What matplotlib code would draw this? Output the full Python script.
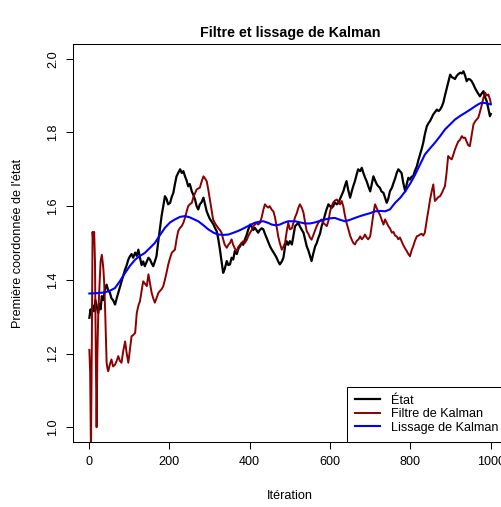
import numpy as np
import matplotlib
matplotlib.use('Agg')
import matplotlib.pyplot as plt

plt.rcParams['font.family'] = ['Liberation Sans', 'DejaVu Sans']

# Etat (premiere coordonnee)
it_etat = [1, 4, 7, 10, 13, 16, 19, 23, 26, 29,
           32, 36, 40, 44, 48, 52, 56, 60, 65, 69,
           73, 77, 81, 85, 89, 94, 98, 102, 106, 110,
           115, 119, 123, 127, 131, 135, 139, 144, 148, 152,
           156, 160, 164, 168, 172, 177, 181, 185, 189, 193,
           197, 202, 206, 210, 214, 218, 222, 227, 231, 235,
           239, 243, 247, 251, 256, 260, 264, 268, 272, 276,
           280, 285, 289, 293, 297, 301, 305, 310, 314, 318,
           322, 326, 330, 334, 338, 343, 347, 351, 355, 359,
           363, 368, 372, 376, 380, 384, 388, 392, 396, 401,
           405, 409, 413, 417, 421, 425, 430, 434, 438, 442,
           447, 451, 455, 459, 463, 467, 471, 475, 480, 484,
           488, 492, 496, 500, 505, 509, 513, 517, 521, 525,
           530, 534, 538, 542, 546, 550, 554, 558, 563, 567,
           571, 575, 579, 583, 587, 591, 596, 600, 604, 608,
           612, 617, 621, 625, 629, 633, 637, 641, 645, 650,
           654, 658, 662, 666, 670, 675, 679, 683, 687, 691,
           695, 700, 704, 708, 712, 716, 720, 724, 728, 733,
           737, 741, 745, 749, 754, 758, 762, 766, 770, 774,
           778, 782, 787, 791, 795, 799, 803, 807, 811, 816,
           820, 824, 828, 832, 836, 841, 845, 849, 853, 857,
           861, 866, 870, 874, 878, 882, 886, 890, 894, 899,
           903, 907, 911, 915, 919, 924, 928, 932, 936, 940,
           944, 948, 952, 957, 961, 965, 969, 973, 977, 982,
           986, 990, 994, 998, 1000]
etat = [1.297, 1.32, 1.305, 1.33, 1.315, 1.345, 1.33, 1.31, 1.335, 1.32,
        1.356, 1.345, 1.375, 1.387, 1.37, 1.366, 1.35, 1.345, 1.333, 1.35,
        1.365, 1.38, 1.395, 1.41, 1.425, 1.44, 1.455, 1.464, 1.47, 1.46,
        1.474, 1.465, 1.482, 1.46, 1.44, 1.45, 1.437, 1.45, 1.46, 1.455,
        1.445, 1.437, 1.45, 1.464, 1.50, 1.541, 1.575, 1.60, 1.627, 1.62,
        1.605, 1.609, 1.625, 1.636, 1.66, 1.681, 1.69, 1.70, 1.69, 1.695,
        1.681, 1.67, 1.654, 1.66, 1.64, 1.63, 1.618, 1.60, 1.591, 1.605,
        1.61, 1.623, 1.605, 1.586, 1.575, 1.565, 1.559, 1.55, 1.54, 1.532,
        1.51, 1.482, 1.45, 1.419, 1.43, 1.451, 1.44, 1.442, 1.46, 1.455,
        1.478, 1.47, 1.485, 1.491, 1.50, 1.495, 1.509, 1.52, 1.535, 1.55,
        1.545, 1.535, 1.541, 1.535, 1.528, 1.535, 1.54, 1.537, 1.525, 1.514,
        1.50, 1.49, 1.482, 1.475, 1.468, 1.46, 1.45, 1.442, 1.45, 1.46,
        1.49, 1.505, 1.495, 1.505, 1.496, 1.52, 1.546, 1.55, 1.555, 1.545,
        1.535, 1.528, 1.51, 1.491, 1.48, 1.465, 1.451, 1.47, 1.491, 1.50,
        1.514, 1.525, 1.545, 1.559, 1.575, 1.59, 1.605, 1.60, 1.595, 1.60,
        1.61, 1.605, 1.609, 1.62, 1.63, 1.64, 1.655, 1.668, 1.645, 1.623,
        1.64, 1.655, 1.668, 1.685, 1.70, 1.695, 1.704, 1.69, 1.678, 1.668,
        1.655, 1.64, 1.66, 1.681, 1.67, 1.66, 1.654, 1.65, 1.64, 1.636,
        1.623, 1.609, 1.62, 1.64, 1.65, 1.663, 1.675, 1.69, 1.70, 1.695,
        1.69, 1.665, 1.64, 1.66, 1.677, 1.672, 1.68, 1.681, 1.695, 1.708,
        1.725, 1.74, 1.755, 1.772, 1.795, 1.817, 1.825, 1.831, 1.84, 1.849,
        1.855, 1.862, 1.858, 1.862, 1.87, 1.881, 1.90, 1.917, 1.935, 1.957,
        1.95, 1.948, 1.945, 1.953, 1.958, 1.962, 1.96, 1.966, 1.955, 1.939,
        1.945, 1.944, 1.94, 1.93, 1.92, 1.912, 1.905, 1.898, 1.905, 1.912,
        1.895, 1.885, 1.865, 1.844, 1.85]

# Filtre de Kalman
it_filtre = [1, 3, 5, 7, 9, 11, 13, 15, 17, 19,
             21, 23, 26, 29, 32, 34, 36, 38, 40, 42,
             44, 46, 48, 52, 56, 60, 65, 69, 73, 77,
             81, 85, 90, 94, 98, 102, 106, 110, 115, 119,
             123, 127, 131, 135, 139, 144, 148, 152, 156, 160,
             164, 168, 173, 177, 181, 185, 189, 193, 197, 202,
             206, 210, 214, 218, 222, 226, 231, 235, 239, 243,
             247, 251, 256, 260, 264, 268, 272, 276, 280, 285,
             289, 293, 297, 301, 305, 309, 313, 318, 322, 326,
             330, 334, 338, 343, 347, 351, 355, 359, 363, 368,
             372, 376, 380, 384, 388, 393, 397, 401, 405, 409,
             413, 417, 421, 426, 430, 434, 438, 442, 446, 450,
             455, 459, 463, 467, 471, 475, 480, 484, 488, 492,
             496, 500, 505, 509, 513, 517, 521, 525, 530, 534,
             538, 542, 546, 550, 554, 558, 563, 567, 571, 575,
             579, 583, 588, 592, 596, 600, 604, 608, 612, 617,
             621, 625, 629, 633, 637, 641, 645, 650, 654, 658,
             662, 666, 671, 675, 679, 683, 687, 691, 695, 700,
             704, 708, 712, 716, 720, 724, 728, 733, 737, 741,
             745, 749, 754, 758, 762, 766, 770, 774, 778, 782,
             787, 791, 795, 799, 803, 807, 811, 816, 820, 824,
             828, 832, 836, 841, 845, 849, 853, 857, 861, 866,
             870, 874, 878, 882, 886, 890, 894, 899, 903, 907,
             911, 915, 919, 924, 928, 932, 936, 940, 944, 948,
             952, 957, 961, 965, 969, 973, 978, 982, 986, 990,
             994, 998, 1000]
filtre = [1.21, 1.15, 0.93, 1.20, 1.53, 1.50, 1.53, 1.45, 1.20, 1.00,
          1.20, 1.30, 1.38, 1.45, 1.468, 1.45, 1.428, 1.39, 1.328, 1.25,
          1.175, 1.16, 1.152, 1.17, 1.184, 1.165, 1.17, 1.18, 1.193, 1.18,
          1.175, 1.205, 1.233, 1.20, 1.175, 1.21, 1.247, 1.25, 1.256, 1.31,
          1.33, 1.342, 1.37, 1.396, 1.39, 1.383, 1.415, 1.39, 1.365, 1.35,
          1.338, 1.35, 1.365, 1.37, 1.375, 1.383, 1.40, 1.419, 1.44, 1.46,
          1.473, 1.478, 1.482, 1.51, 1.532, 1.54, 1.546, 1.555, 1.568, 1.585,
          1.60, 1.605, 1.609, 1.625, 1.635, 1.645, 1.648, 1.65, 1.665, 1.681,
          1.675, 1.668, 1.645, 1.618, 1.59, 1.564, 1.555, 1.546, 1.54, 1.535,
          1.528, 1.51, 1.495, 1.487, 1.495, 1.50, 1.51, 1.495, 1.485, 1.478,
          1.49, 1.495, 1.50, 1.505, 1.50, 1.509, 1.52, 1.528, 1.535, 1.545,
          1.55, 1.555, 1.55, 1.555, 1.57, 1.59, 1.605, 1.60, 1.596, 1.60,
          1.59, 1.586, 1.57, 1.545, 1.518, 1.50, 1.482, 1.49, 1.50, 1.53,
          1.555, 1.537, 1.54, 1.555, 1.57, 1.58, 1.595, 1.605, 1.595, 1.582,
          1.555, 1.532, 1.525, 1.515, 1.509, 1.52, 1.535, 1.546, 1.555, 1.56,
          1.564, 1.555, 1.55, 1.546, 1.56, 1.585, 1.60, 1.61, 1.615, 1.618,
          1.61, 1.605, 1.614, 1.60, 1.575, 1.555, 1.54, 1.52, 1.509, 1.50,
          1.496, 1.505, 1.51, 1.518, 1.51, 1.515, 1.523, 1.515, 1.51, 1.518,
          1.55, 1.58, 1.605, 1.595, 1.585, 1.577, 1.565, 1.55, 1.564, 1.555,
          1.546, 1.54, 1.528, 1.53, 1.52, 1.518, 1.51, 1.515, 1.505, 1.495,
          1.485, 1.478, 1.47, 1.464, 1.48, 1.491, 1.505, 1.518, 1.52, 1.523,
          1.525, 1.52, 1.528, 1.564, 1.59, 1.618, 1.64, 1.659, 1.614, 1.62,
          1.625, 1.627, 1.635, 1.645, 1.654, 1.69, 1.736, 1.73, 1.727, 1.74,
          1.754, 1.765, 1.775, 1.781, 1.79, 1.785, 1.786, 1.775, 1.765, 1.763,
          1.79, 1.822, 1.83, 1.835, 1.84, 1.855, 1.876, 1.895, 1.908, 1.90,
          1.903, 1.89, 1.88]

# Lissage de Kalman
it_lissage = [1, 20, 40, 55, 65, 78, 90, 102, 115, 127,
              139, 152, 164, 177, 189, 202, 214, 227, 239, 250,
              260, 272, 285, 297, 310, 322, 335, 347, 360, 372,
              380, 396, 413, 425, 434, 445, 455, 465, 475, 485,
              496, 513, 525, 538, 550, 563, 575, 588, 600, 612,
              625, 637, 650, 662, 675, 687, 700, 712, 725, 737,
              749, 762, 775, 787, 800, 812, 824, 836, 849, 861,
              874, 886, 899, 911, 924, 936, 949, 961, 970, 978,
              990, 1000]
lissage = [1.363, 1.364, 1.366, 1.372, 1.378, 1.398, 1.419, 1.438, 1.455, 1.465,
           1.473, 1.487, 1.50, 1.522, 1.541, 1.556, 1.564, 1.571, 1.573, 1.57,
           1.565, 1.559, 1.548, 1.537, 1.528, 1.523, 1.522, 1.523, 1.528, 1.533,
           1.537, 1.546, 1.555, 1.558, 1.559, 1.555, 1.55, 1.548, 1.55, 1.555,
           1.559, 1.559, 1.556, 1.553, 1.553, 1.556, 1.56, 1.564, 1.567, 1.568,
           1.563, 1.559, 1.563, 1.568, 1.573, 1.577, 1.581, 1.586, 1.587, 1.586,
           1.591, 1.609, 1.623, 1.64, 1.662, 1.686, 1.713, 1.74, 1.757, 1.772,
           1.79, 1.808, 1.822, 1.835, 1.845, 1.853, 1.862, 1.871, 1.877, 1.881,
           1.879, 1.876]

x_ticks = [0, 200, 400, 600, 800, 1000]
y_ticks = [1.0, 1.2, 1.4, 1.6, 1.8, 2.0]
noms = ['État', 'Filtre de Kalman', 'Lissage de Kalman']

W, H = 502, 507
fig = plt.figure(figsize=(W / 100, H / 100), dpi=100)
# la boite du graphe deborde a droite comme sur l'original
ax = fig.add_axes([73.3 / W, 1 - 442 / H, (506.8 - 73.3) / W, (442 - 44) / H])

ax.plot(it_etat, etat, color='black', lw=1.6, label=noms[0])
ax.plot(it_filtre, filtre, color='#8B0000', lw=1.4, label=noms[1])
ax.plot(it_lissage, lissage, color='#0000FF', lw=1.5, label=noms[2])

ax.set_xlim(1 - 0.04 * 999, 1000 + 0.04 * 999)
ax.set_ylim(1.0 - 0.04, 2.0 + 0.04)
ax.set_xticks(x_ticks)
ax.set_xticklabels([str(t) for t in x_ticks])
ax.set_yticks(y_ticks)
ax.set_yticklabels([f'{t:.1f}' for t in y_ticks], rotation=90, va='center')
ax.tick_params(direction='out', length=5.3, width=0.75, labelsize=9.1, pad=5)
for s in ax.spines.values():
    s.set_linewidth(0.75)

fig.text(290 / W, 1 - 33 / H, 'Filtre et lissage de Kalman', ha='center',
         va='center', fontsize=10.3, fontweight='bold')
fig.text(290 / W, 1 - 496 / H, 'Itération', ha='center', va='center', fontsize=9.1)
fig.text(18 / W, 1 - 243 / H, "Première coordonnée de l'état", ha='center',
         va='center', rotation=90, fontsize=9.1)

leg = ax.legend(loc='lower right', bbox_to_anchor=(1, 0), borderaxespad=0,
                fancybox=False, edgecolor='black', framealpha=1, fontsize=9.1,
                handlelength=2.0, handletextpad=0.85, borderpad=0.65,
                labelspacing=0.12)
leg.get_frame().set_linewidth(0.75)

fig.savefig('out.png', dpi=100)
